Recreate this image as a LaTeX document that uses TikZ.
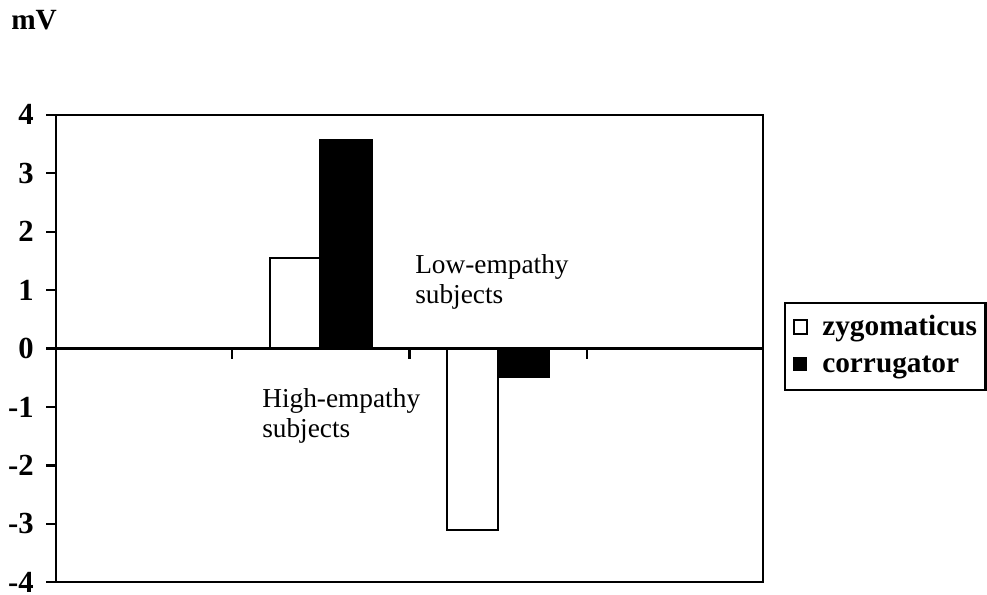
\documentclass[tikz,border=0pt]{standalone}
\usepackage{fontspec}
\setmainfont{Liberation Serif}

\tikzset{
	frameline/.style={line width=1.8pt},
	openbar/.style={draw, line width=1.8pt, fill=white},
	solidbar/.style={draw, line width=1.8pt, fill=black},
	ticklabel/.style={font=\bfseries\fontsize{23}{25}\selectfont, anchor=east, inner sep=0pt},
	legendtext/.style={font=\bfseries\fontsize{22}{25}\selectfont, anchor=base west, inner sep=0pt},
	grouplabel/.style={font=\fontsize{20.5}{22.5}\selectfont, anchor=base west, align=left, inner sep=0pt}
}

\begin{document}
\begin{tikzpicture}[x=0.75pt,y=-0.75pt]

	\useasboundingbox (0,0) rectangle (987,595);

	\coordinate (TL) at (56,115);
	\coordinate (BR) at (763,582);
	\coordinate (Z) at (56,348.5);
	\coordinate (ZR) at (763,348.5);
	\coordinate (LTL) at (785,303);
	\coordinate (LBR) at (985.5,390);

	\node [font=\bfseries\fontsize{22}{24}\selectfont, anchor=base west, inner sep=0pt] (unit) at (11,30) {mV};

	% frame and zero line
	\draw [frameline] (TL) rectangle (BR);
	\draw [frameline] (Z) -- (ZR);

	% value axis
	\foreach \v in {-4,...,4} {
		\draw [frameline] (46,{348.5-58.4*\v}) -- (56,{348.5-58.4*\v});
		\node [ticklabel] (tick\v) at (34,{348.5-58.4*\v}) {\v};
	}

	% category ticks
	\foreach \x in {232,409.5,587} \draw [frameline] (\x,348.5) -- (\x,359);

	% bars
	\draw [openbar] (270,348.5) rectangle (320,258);
	\draw [solidbar] (320,348.5) rectangle (372,140);
	\draw [openbar] (447,348.5) rectangle (498,530);
	\draw [solidbar] (498,348.5) rectangle (549,377);

	\node [grouplabel] (low) at (415,303) {Low-empathy\\subjects};
	\node [grouplabel] (high) at (262,437) {High-empathy\\subjects};

	% legend
	\draw [frameline] (LTL) rectangle (LBR);
	\draw [line width=1.2pt] (794,320) rectangle (807,334);
	\fill (793,357) rectangle (807,371);
	\node [legendtext] (zyg) at (822,335) {zygomaticus};
	\node [legendtext] (cor) at (822,372) {corrugator};

\end{tikzpicture}
\end{document}
